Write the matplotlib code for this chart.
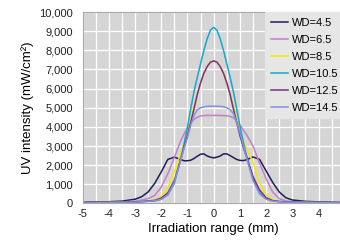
# UV intensity profiles for different working distances

import numpy as np
import matplotlib
matplotlib.use("Agg")
import matplotlib.pyplot as plt
from matplotlib.ticker import FuncFormatter, MultipleLocator

plt.rcParams['font.family'] = ['Liberation Sans', 'DejaVu Sans']
plt.rcParams['axes.unicode_minus'] = False

# irradiation position (mm)
x = [-5, -4, -3.5, -3, -2.75, -2.5, -2.25, -2, -1.75, -1.5, -1.25, -1.125, -1, -0.875,
     -0.75, -0.625, -0.5, -0.375, -0.25, -0.125, 0, 0.125, 0.25, 0.375, 0.5, 0.625, 0.75,
     0.875, 1, 1.125, 1.25, 1.5, 1.75, 2, 2.25, 2.5, 2.75, 3, 3.5, 4, 5]

# UV intensity (mW/cm2)
wd_4_5 = [60, 90, 120, 220, 350, 600, 1050, 1650, 2300, 2420, 2290, 2230, 2230, 2260,
          2350, 2470, 2570, 2590, 2480, 2420, 2380, 2420, 2480, 2590, 2590, 2500, 2400,
          2300, 2250, 2240, 2280, 2430, 2300, 1700, 1100, 600, 300, 180, 110, 80, 50]
wd_6_5 = [40, 60, 80, 120, 180, 250, 420, 850, 1550, 2400, 3300, 3650, 3950, 4200,
          4400, 4500, 4570, 4590, 4600, 4600, 4600, 4600, 4600, 4590, 4580, 4550, 4480,
          4300, 4100, 3850, 3600, 3000, 2100, 1300, 600, 250, 130, 90, 60, 50, 40]
wd_8_5 = [30, 50, 60, 80, 100, 130, 180, 350, 800, 1650, 2650, 3200, 3700, 4350,
          5100, 5750, 6300, 6800, 7150, 7380, 7450, 7380, 7150, 6800, 6300, 5750, 5100,
          4400, 3800, 3300, 2900, 2150, 1100, 450, 180, 110, 80, 70, 50, 40, 30]
wd_10_5 = [30, 40, 50, 70, 90, 110, 140, 220, 450, 1050, 2350, 3150, 4000, 4950,
           5850, 6600, 7300, 8000, 8600, 9050, 9200, 9050, 8600, 8000, 7300, 6600, 5850,
           4950, 4050, 3250, 2500, 1300, 550, 250, 130, 100, 80, 70, 50, 40, 30]
wd_12_5 = [40, 50, 60, 80, 100, 130, 160, 280, 550, 1200, 2350, 2950, 3550, 4250,
           4950, 5700, 6300, 6800, 7150, 7380, 7450, 7380, 7150, 6800, 6300, 5700, 4950,
           4250, 3550, 2950, 2450, 1400, 700, 300, 150, 100, 80, 70, 50, 40, 30]
wd_14_5 = [30, 40, 50, 70, 90, 110, 140, 220, 450, 1100, 2300, 2900, 3450, 4100,
           4600, 4900, 5000, 5050, 5070, 5080, 5080, 5080, 5070, 5050, 5000, 4900, 4700,
           4250, 3700, 3050, 2400, 1200, 500, 220, 120, 90, 70, 60, 50, 40, 30]

labels = ['WD=4.5', 'WD=6.5', 'WD=8.5', 'WD=10.5', 'WD=12.5', 'WD=14.5']
colors = ['#1e1e5c', '#c47fc4', '#f5e800', '#12a8d2', '#7b2f86', '#8391e0']
series = [wd_4_5, wd_6_5, wd_8_5, wd_10_5, wd_12_5, wd_14_5]

fig = plt.figure(figsize=(3.4, 2.46), dpi=100)
ax = fig.add_axes([0.243, 0.173, 0.771, 0.778])
ax.set_facecolor('#d5d5d5')

for y, lab, col in zip(series, labels, colors):
    ax.plot(x, y, color=col, lw=1.1, label=lab)

ax.set_xlim(-5, 5)
ax.set_ylim(0, 10000)
ax.xaxis.set_minor_locator(MultipleLocator(0.5))
ax.yaxis.set_major_locator(MultipleLocator(1000))
ax.yaxis.set_major_formatter(FuncFormatter(lambda v, p: f'{v:,.0f}'))
ax.set_xticks(range(-5, 5))
ax.grid(which='both', color='white', lw=0.9)
ax.set_axisbelow(True)
ax.tick_params(length=0, labelsize=8, colors='#222222')
ax.tick_params(which='minor', length=0)
ax.tick_params(axis='y', pad=7)
ax.tick_params(axis='x', pad=4)
for s in ax.spines.values():
    s.set_color('#a8a8a8')
    s.set_linewidth(0.8)

ax.set_xlabel('Irradiation range (mm)', fontsize=9.5, labelpad=3)
ax.set_ylabel('UV intensity (mW/cm\u00b2)', fontsize=9.5, labelpad=4)

leg = ax.legend(loc='upper right', bbox_to_anchor=(1.0, 1.0), fontsize=8,
                frameon=True, fancybox=False, borderaxespad=0, handlelength=1.55,
                handletextpad=0.35, labelspacing=0.62, borderpad=0.55)
leg.get_frame().set_facecolor('#e6e6e6')
leg.get_frame().set_edgecolor('none')
leg.get_frame().set_alpha(1)

fig.savefig('out.png', dpi=100)
